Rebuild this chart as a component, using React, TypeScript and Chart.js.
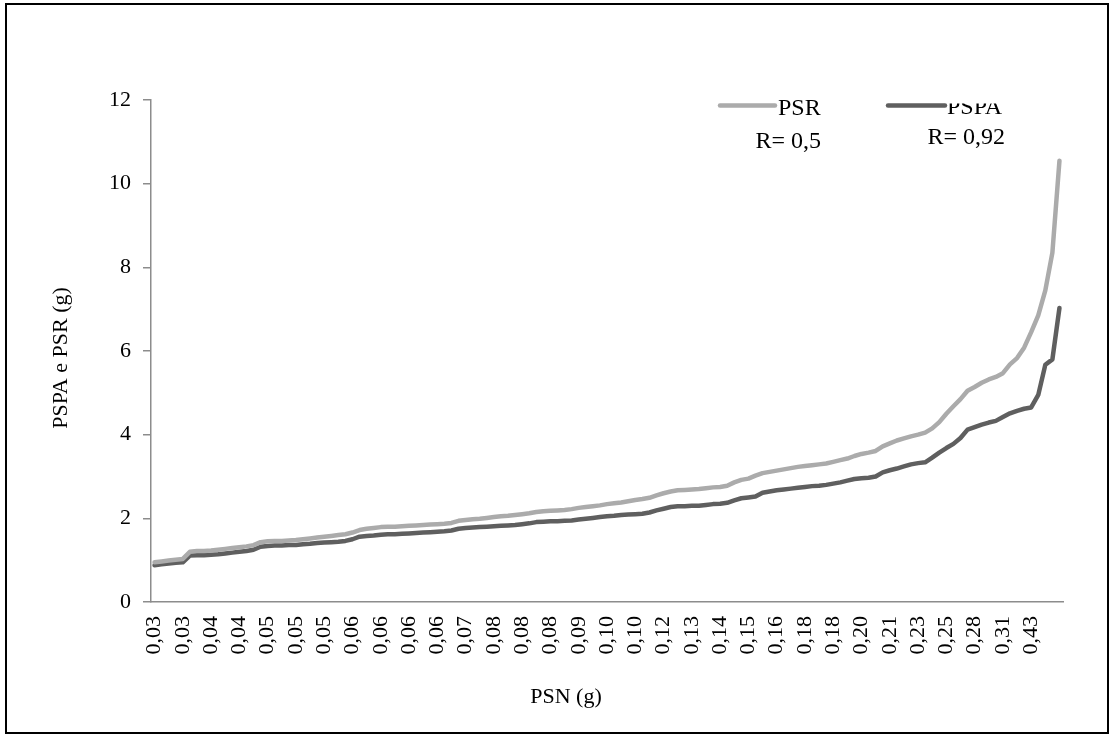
import React, { useEffect, useRef } from "react";
import { Chart, registerables } from "chart.js";

Chart.register(...registerables);

// Tick labels shown on the PSN axis (every 4th sample)
const tickLabels = [
  "0,03", "0,03", "0,04", "0,04", "0,05", "0,05", "0,05", "0,06",
  "0,06", "0,06", "0,06", "0,07", "0,08", "0,08", "0,08", "0,09",
  "0,10", "0,10", "0,12", "0,13", "0,14", "0,15", "0,16", "0,18",
  "0,18", "0,20", "0,21", "0,23", "0,25", "0,28", "0,31", "0,43",
];
const labelStep = 4;

const seriesNames = ["PSR", "PSPA"];
const seriesR = ["R= 0,5", "R= 0,92"];
const seriesColors = ["#ababab", "#5f5f5f"];

const psr = [
  0.95, 0.97, 0.99, 1.01, 1.03, 1.2, 1.22, 1.22, 1.23, 1.25,
  1.27, 1.29, 1.31, 1.33, 1.36, 1.43, 1.45, 1.46, 1.46, 1.47,
  1.48, 1.5, 1.52, 1.54, 1.56, 1.58, 1.6, 1.62, 1.66, 1.72,
  1.75, 1.77, 1.79, 1.8, 1.8, 1.81, 1.82, 1.83, 1.84, 1.85,
  1.86, 1.87, 1.89, 1.94, 1.96, 1.98, 1.99, 2.01, 2.03, 2.05,
  2.06, 2.08, 2.1, 2.12, 2.15, 2.17, 2.18, 2.19, 2.2, 2.22,
  2.25, 2.27, 2.29, 2.31, 2.34, 2.36, 2.38, 2.41, 2.44, 2.46,
  2.49, 2.55, 2.6, 2.64, 2.67, 2.68, 2.69, 2.7, 2.72, 2.74,
  2.75, 2.78, 2.86, 2.92, 2.95, 3.02, 3.08, 3.11, 3.14, 3.17,
  3.2, 3.23, 3.25, 3.27, 3.29, 3.31, 3.35, 3.39, 3.43, 3.49,
  3.54, 3.57, 3.61, 3.72, 3.79, 3.86, 3.91, 3.96, 4.0, 4.05,
  4.15, 4.3, 4.5, 4.68, 4.85, 5.05, 5.14, 5.24, 5.32, 5.38,
  5.47, 5.68, 5.83, 6.08, 6.45, 6.85, 7.45, 8.35, 10.55,
];

const pspa = [
  0.88, 0.9, 0.92, 0.94, 0.95, 1.11, 1.12, 1.12, 1.13, 1.14,
  1.16, 1.18, 1.2, 1.22, 1.25, 1.32, 1.34, 1.35, 1.35, 1.36,
  1.36, 1.38, 1.39, 1.41, 1.42, 1.43, 1.44, 1.46, 1.5, 1.56,
  1.58, 1.59, 1.61, 1.62, 1.62, 1.63, 1.64, 1.65, 1.66, 1.67,
  1.68, 1.69, 1.71, 1.75, 1.77, 1.78, 1.79, 1.8, 1.81, 1.82,
  1.83, 1.84, 1.86, 1.88, 1.91, 1.92, 1.93, 1.93, 1.94, 1.95,
  1.97, 1.99, 2.01, 2.03, 2.05, 2.06, 2.08, 2.09, 2.1, 2.11,
  2.14, 2.19, 2.23, 2.27, 2.29, 2.29, 2.3, 2.3, 2.32, 2.34,
  2.35, 2.37, 2.43, 2.48, 2.5, 2.52, 2.61, 2.64, 2.67, 2.69,
  2.71, 2.73, 2.75, 2.77, 2.78, 2.8, 2.83, 2.86, 2.9, 2.94,
  2.96, 2.97, 3.0, 3.1, 3.15, 3.19, 3.24, 3.29, 3.32, 3.34,
  3.45, 3.57, 3.68, 3.78, 3.92, 4.12, 4.18, 4.24, 4.29, 4.33,
  4.42, 4.51, 4.57, 4.62, 4.65, 4.95, 5.67, 5.8, 7.03,
];

const categories = psr.map((_, i) =>
  i % labelStep === 0 ? tickLabels[i / labelStep] ?? "" : ""
);

const SERIF = '"Liberation Serif", "Times New Roman", serif';

const annotations = {
  id: "annotations",
  afterDraw(chart: any) {
    const ctx = chart.ctx as CanvasRenderingContext2D;
    ctx.save();
    ctx.fillStyle = "#000";

    // Axis titles
    ctx.font = `22px ${SERIF}`;
    ctx.save();
    ctx.translate(61, 358);
    ctx.rotate(-Math.PI / 2);
    ctx.textAlign = "center";
    ctx.textBaseline = "middle";
    ctx.fillText("PSPA e PSR (g)", 0, 0);
    ctx.restore();
    ctx.textAlign = "center";
    ctx.textBaseline = "middle";
    ctx.fillText("PSN (g)", 566, 697);

    // Legend
    ctx.font = `24px ${SERIF}`;
    ctx.textBaseline = "alphabetic";
    const items = [
      { x0: 720, x1: 775, ly: 105.5, tx: 778, ty: 115, rx: 821, ry: 148, clip: false },
      { x0: 888, x1: 945, ly: 105.5, tx: 947, ty: 113.5, rx: 1005, ry: 143.5, clip: true },
    ];
    items.forEach((it, k) => {
      ctx.save();
      ctx.strokeStyle = seriesColors[k];
      ctx.lineWidth = 4.5;
      ctx.lineCap = "round";
      ctx.beginPath();
      ctx.moveTo(it.x0, it.ly);
      ctx.lineTo(it.x1, it.ly);
      ctx.stroke();
      ctx.restore();

      ctx.save();
      if (it.clip) {
        ctx.beginPath();
        ctx.rect(it.tx - 2, 103.5, 200, 40);
        ctx.clip();
      }
      ctx.textAlign = "left";
      ctx.fillText(seriesNames[k], it.tx, it.ty);
      ctx.restore();

      ctx.textAlign = "right";
      ctx.fillText(seriesR[k], it.rx, it.ry);
    });
    ctx.restore();
  },
};

export default function App() {
  const canvasRef = useRef<HTMLCanvasElement | null>(null);

  useEffect(() => {
    const canvas = canvasRef.current;
    if (!canvas) return;
    const chart = new Chart(canvas, {
      type: "line",
      data: {
        labels: categories,
        datasets: [
          {
            label: seriesNames[0],
            data: psr,
            borderColor: seriesColors[0],
            backgroundColor: seriesColors[0],
            borderWidth: 4.5,
            pointRadius: 0,
            tension: 0,
            borderJoinStyle: "round",
            borderCapStyle: "round",
          },
          {
            label: seriesNames[1],
            data: pspa,
            borderColor: seriesColors[1],
            backgroundColor: seriesColors[1],
            borderWidth: 4.5,
            pointRadius: 0,
            tension: 0,
            borderJoinStyle: "round",
            borderCapStyle: "round",
          },
        ],
      },
      options: {
        responsive: false,
        animation: false,
        events: [],
        layout: { padding: { top: 100, right: 52, left: 0, bottom: 0 } },
        plugins: {
          legend: { display: false },
          tooltip: { enabled: false },
          title: { display: false },
        },
        scales: {
          x: {
            type: "category",
            offset: true,
            grid: { display: false, drawTicks: false },
            border: { display: true, color: "#8c8c8c", width: 1.5 },
            ticks: {
              autoSkip: false,
              maxRotation: 90,
              minRotation: 90,
              padding: 14,
              color: "#000",
              font: { family: SERIF, size: 22 },
            },
            afterFit: (scale: any) => {
              scale.height = 136;
            },
          },
          y: {
            min: 0,
            max: 12,
            ticks: {
              stepSize: 2,
              padding: 12,
              color: "#000",
              font: { family: SERIF, size: 22 },
            },
            grid: {
              drawOnChartArea: false,
              drawTicks: true,
              tickLength: 8,
              color: "#8c8c8c",
              lineWidth: 1.5,
            },
            border: { display: true, color: "#8c8c8c", width: 1.5 },
            afterFit: (scale: any) => {
              scale.width = 151;
            },
          },
        },
      },
      plugins: [annotations],
    });
    return () => chart.destroy();
  }, []);

  return (
    <div
      style={{
        position: "fixed",
        left: 0,
        top: 0,
        width: 1115,
        height: 738,
        background: "#fff",
      }}
    >
      <canvas
        ref={canvasRef}
        width={1115}
        height={738}
        style={{ display: "block", width: 1115, height: 738 }}
      />
      <div
        style={{
          position: "absolute",
          left: 5,
          top: 3,
          width: 1104,
          height: 731,
          border: "2px solid #000",
          boxSizing: "border-box",
          pointerEvents: "none",
        }}
      />
    </div>
  );
}
